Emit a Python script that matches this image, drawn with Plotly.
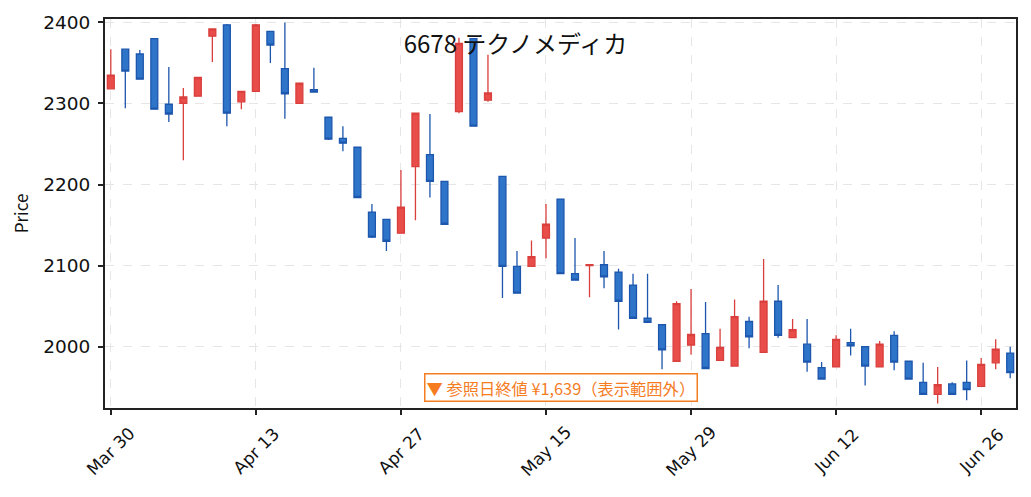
import plotly.graph_objects as go

dates = [
    "2020-03-30", "2020-03-31", "2020-04-01", "2020-04-02", "2020-04-03",
    "2020-04-06", "2020-04-07", "2020-04-08", "2020-04-09", "2020-04-10",
    "2020-04-13", "2020-04-14", "2020-04-15", "2020-04-16", "2020-04-17",
    "2020-04-20", "2020-04-21", "2020-04-22", "2020-04-23", "2020-04-24",
    "2020-04-27", "2020-04-28", "2020-04-30", "2020-05-01", "2020-05-07",
    "2020-05-08", "2020-05-11", "2020-05-12", "2020-05-13", "2020-05-14",
    "2020-05-15", "2020-05-18", "2020-05-19", "2020-05-20", "2020-05-21",
    "2020-05-22", "2020-05-25", "2020-05-26", "2020-05-27", "2020-05-28",
    "2020-05-29", "2020-06-01", "2020-06-02", "2020-06-03", "2020-06-04",
    "2020-06-05", "2020-06-08", "2020-06-09", "2020-06-10", "2020-06-11",
    "2020-06-12", "2020-06-15", "2020-06-16", "2020-06-17", "2020-06-18",
    "2020-06-19", "2020-06-22", "2020-06-23", "2020-06-24", "2020-06-25",
    "2020-06-26", "2020-06-29", "2020-06-30",
]

opens = [2318, 2367, 2361, 2380, 2299, 2300, 2309, 2383, 2397, 2302,
         2315, 2389, 2343, 2300, 2317, 2283, 2257, 2246, 2166, 2157,
         2140, 2222, 2237, 2204, 2290, 2380, 2304, 2210, 2099, 2099,
         2134, 2182, 2090, 2100, 2101, 2092, 2076, 2035, 2027, 1982,
         2002, 2016, 1983, 1976, 2031, 1993, 2056, 2011, 2003, 1974,
         1975, 2005, 2000, 1975, 2014, 1982, 1956, 1941, 1954, 1956,
         1951, 1980, 1992]
highs = [2367, 2367, 2366, 2380, 2345, 2319, 2332, 2392, 2398, 2315,
         2398, 2389, 2400, 2325, 2344, 2283, 2272, 2246, 2176, 2157,
         2218, 2288, 2287, 2204, 2381, 2380, 2360, 2210, 2118, 2131,
         2176, 2182, 2134, 2101, 2118, 2096, 2090, 2090, 2027, 2056,
         2071, 2055, 2022, 2058, 2037, 2108, 2076, 2034, 2034, 1981,
         2014, 2022, 2000, 2007, 2019, 1982, 1980, 1975, 1956, 1983,
         1986, 2009, 2000]
lows = [2318, 2294, 2330, 2293, 2277, 2230, 2309, 2351, 2272, 2293,
        2315, 2350, 2281, 2300, 2314, 2255, 2241, 2184, 2134, 2118,
        2140, 2156, 2184, 2151, 2288, 2272, 2302, 2060, 2066, 2099,
        2109, 2090, 2082, 2061, 2072, 2021, 2035, 2030, 1972, 1982,
        1990, 1973, 1983, 1976, 1998, 1993, 2011, 2011, 1969, 1959,
        1975, 1989, 1952, 1975, 1971, 1960, 1941, 1930, 1941, 1934,
        1951, 1972, 1961]
closes = [2335, 2340, 2330, 2293, 2287, 2308, 2332, 2392, 2288, 2315,
          2397, 2372, 2312, 2325, 2314, 2256, 2251, 2184, 2135, 2130,
          2172, 2288, 2204, 2151, 2374, 2272, 2313, 2099, 2066, 2111,
          2151, 2090, 2082, 2101, 2086, 2056, 2035, 2030, 1996, 2053,
          2015, 1973, 1999, 2037, 2012, 2056, 2014, 2021, 1981, 1960,
          2009, 2001, 1976, 2003, 1981, 1960, 1941, 1953, 1941, 1947,
          1978, 1997, 1968]

tick_idx = [0, 10, 20, 30, 40, 50, 60]
tick_text = ["Mar 30", "Apr 13", "Apr 27", "May 15", "May 29", "Jun 12", "Jun 26"]
y_ticks = [2000, 2100, 2200, 2300, 2400]

title_text = "6678 テクノメディカ"
note_text = "▼ 参照日終値 ¥1,639（表示範囲外）"

FONT = "DejaVu Sans, Noto Sans CJK JP, sans-serif"
CJK = "Noto Sans CJK JP, sans-serif"

fig = go.Figure()
fig.add_trace(go.Candlestick(
    x=dates, open=opens, high=highs, low=lows, close=closes,
    increasing=dict(line=dict(color="#d93f3c", width=1.3), fillcolor="#e84d4a"),
    decreasing=dict(line=dict(color="#1d56ad", width=1.3), fillcolor="#2e75c9"),
    whiskerwidth=0,
    showlegend=False,
))

annotations = [dict(
    text=note_text, xref="paper", yref="paper", x=0.5, y=0.053,
    xanchor="center", yanchor="middle", showarrow=False,
    font=dict(family=CJK, size=16.3, color="#f57c1f"),
    bgcolor="white", bordercolor="#f57c1f", borderwidth=1.5, borderpad=1,
)]
# rotated tick labels centred on their ticks
for i, lab in zip(tick_idx, tick_text):
    annotations.append(dict(
        text=lab, xref="x", yref="paper", x=dates[i], y=-0.1105,
        xanchor="center", yanchor="middle", showarrow=False, textangle=-45,
        font=dict(family=FONT, size=17, color="#111111"),
    ))

fig.update_layout(
    width=1031, height=497,
    margin=dict(l=105, r=15, t=19, b=89),
    paper_bgcolor="white", plot_bgcolor="white",
    boxgap=0.32,
    title=dict(text=title_text, x=0.5, xref="container", xanchor="center",
               y=1 - 45 / 497, yref="container", yanchor="middle",
               font=dict(family=CJK, size=24, color="#111111")),
    font=dict(family=FONT, color="#111111"),
    annotations=annotations,
)

fig.update_xaxes(
    type="category",
    range=[-0.4, 62.4],
    automargin=False,
    rangeslider=dict(visible=False),
    tickmode="array", tickvals=[dates[i] for i in tick_idx], ticktext=tick_text,
    showticklabels=False,
    ticks="outside", ticklen=5, tickwidth=1.5, tickcolor="#222222",
    showline=True, linecolor="#222222", linewidth=2, mirror=True,
    showgrid=True, gridcolor="#e6e6e6", griddash="dash", gridwidth=1,
    zeroline=False,
)
fig.update_yaxes(
    range=[1924.3, 2404.2],
    automargin=False,
    tickmode="array", tickvals=y_ticks,
    tickfont=dict(size=18.5, family=FONT, color="#111111"),
    ticks="outside", ticklen=5, tickwidth=1.5, tickcolor="#222222",
    ticklabelstandoff=4,
    showline=True, linecolor="#222222", linewidth=2, mirror=True,
    showgrid=True, gridcolor="#e6e6e6", griddash="dash", gridwidth=1,
    zeroline=False,
    title=dict(text="Price", standoff=10,
               font=dict(size=17, family=CJK, color="#111111")),
)

fig.write_html(
    "out.html",
    config={"displayModeBar": False},
    post_script="document.body.style.margin='0';document.body.style.overflow='hidden';",
)
